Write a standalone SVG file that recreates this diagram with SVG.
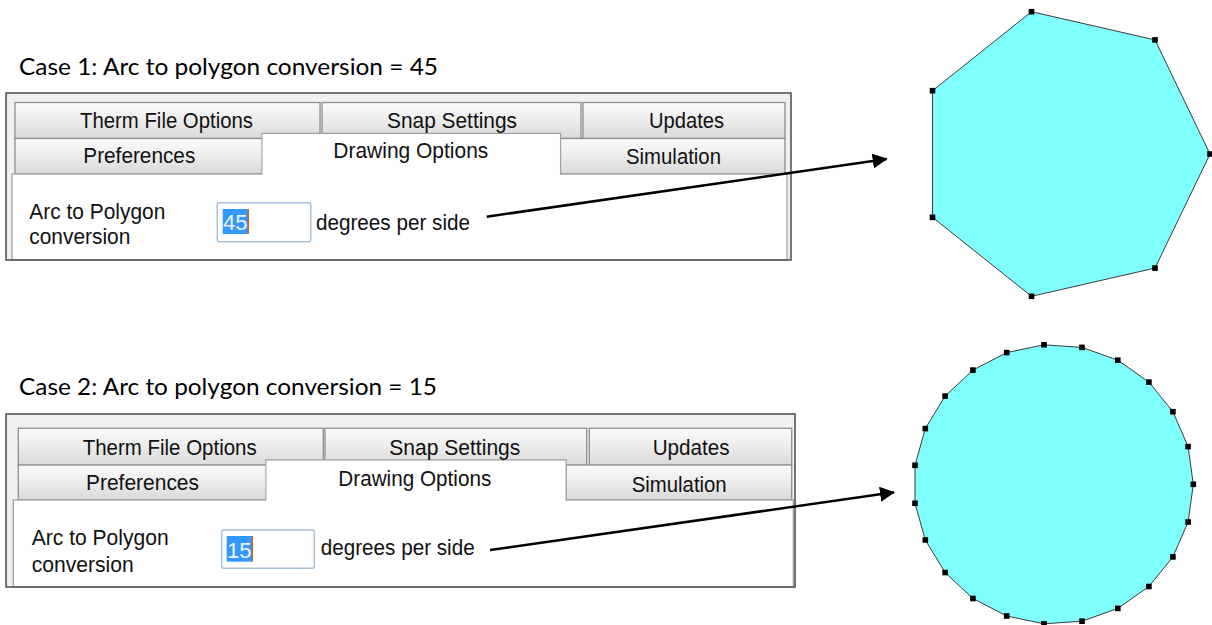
<svg xmlns="http://www.w3.org/2000/svg" width="1212" height="625" viewBox="0 0 1212 625">
  <defs>
    <linearGradient id="tabFill" x1="0" y1="0" x2="0" y2="1">
      <stop offset="0" stop-color="#fbfbfb"/>
      <stop offset="0.5" stop-color="#ececec"/>
      <stop offset="1" stop-color="#d9d9d9"/>
    </linearGradient>
    <marker id="arrowHead" markerUnits="userSpaceOnUse" markerWidth="15" markerHeight="15" viewBox="0 0 15 15" refX="14" refY="7.5" orient="auto">
      <path d="M0,0 L15,7.5 L0,15 Z" fill="#000"/>
    </marker>
    <rect id="vtx" x="-2.8" y="-2.8" width="5.6" height="5.6" fill="#000"/>
  </defs>
  <style>
    .title { font-family: Lato, "Noto Sans", "Liberation Sans", sans-serif; font-size: 22.5px; fill: #000; }
    .ui { font-family: "Liberation Sans", Arial, sans-serif; font-size: 22px; fill: #111; }
    .sel { font-family: "Liberation Sans", Arial, sans-serif; font-size: 22px; fill: #eef4ff; }
    .panel { fill: #f0f0f0; }
    .frame { fill: none; stroke: #4a4a4a; stroke-width: 1.5; }
    .tab { fill: url(#tabFill); stroke: #8e8e8e; stroke-width: 1.3; }
    .content { fill: #fff; stroke: #a2a2a2; stroke-width: 1.3; }
    .active { fill: #fff; stroke: #a2a2a2; stroke-width: 1.3; }
    .field { fill: #fff; stroke: #a9c1d9; stroke-width: 1.5; }
    .hilite { fill: #3399ff; }
    .caret { stroke: #c8641e; stroke-width: 1.5; }
    .shape { fill: #80ffff; stroke: #3a3a3a; stroke-width: 1; }
    .link { fill: none; stroke: #000; stroke-width: 2.5; marker-end: url(#arrowHead); }
  </style>

  <rect width="1212" height="625" fill="#fff"/>

  <!-- Case 1 -->
  <g id="case1-title">
    <text class="title" x="19" y="75" textLength="419" lengthAdjust="spacingAndGlyphs">Case 1: Arc to polygon conversion = 45</text>
  </g>

  <g id="case1-dialog">
    <rect class="panel" x="6" y="93" width="785" height="167"/>
    <!-- back row of tabs -->
    <rect class="tab" x="15" y="102.5" width="305" height="36"/>
    <rect class="tab" x="322" y="102.5" width="259" height="36"/>
    <rect class="tab" x="583" y="102.5" width="202" height="36"/>
    <!-- front row of tabs -->
    <rect class="tab" x="15" y="138.5" width="248" height="35.5"/>
    <rect class="tab" x="560" y="138.5" width="225" height="35.5"/>
    <!-- page -->
    <rect class="content" x="12" y="174" width="775" height="86"/>
    <path class="active" d="M262,174.7 V133.5 H560.5 V174.7"/>
    <rect x="262.7" y="134.2" width="297.1" height="41" fill="#fff"/>
    <text class="ui" x="80" y="128.3" textLength="173" lengthAdjust="spacingAndGlyphs">Therm File Options</text>
    <text class="ui" x="387" y="128.3" textLength="130" lengthAdjust="spacingAndGlyphs">Snap Settings</text>
    <text class="ui" x="649" y="128.3" textLength="75" lengthAdjust="spacingAndGlyphs">Updates</text>
    <text class="ui" x="83.3" y="162.7" textLength="112" lengthAdjust="spacingAndGlyphs">Preferences</text>
    <text class="ui" x="333.3" y="158.3" textLength="155" lengthAdjust="spacingAndGlyphs">Drawing Options</text>
    <text class="ui" x="626" y="164" textLength="95" lengthAdjust="spacingAndGlyphs">Simulation</text>
    <text class="ui" x="29.3" y="219" textLength="136" lengthAdjust="spacingAndGlyphs">Arc to Polygon</text>
    <text class="ui" x="29.3" y="244" textLength="101" lengthAdjust="spacingAndGlyphs">conversion</text>
    <rect class="field" x="217.3" y="202.7" width="93.4" height="39" rx="2"/>
    <rect class="hilite" x="222.7" y="209" width="25.6" height="25"/>
    <text class="sel" x="223" y="230" textLength="24.5" lengthAdjust="spacingAndGlyphs">45</text>
    <line class="caret" x1="248.3" y1="209" x2="248.3" y2="234"/>
    <text class="ui" x="316" y="230" textLength="154" lengthAdjust="spacingAndGlyphs">degrees per side</text>
    <rect class="frame" x="6" y="93" width="785" height="167"/>
  </g>

  <g id="case1-polygon">
    <polygon class="shape" points="1210,154 1155,39.9 1031.5,11.7 932.5,90.7 932.5,217.3 1031.5,296.3 1155,268.1"/>
    <use href="#vtx" x="1210" y="154"/>
    <use href="#vtx" x="1155" y="39.9"/>
    <use href="#vtx" x="1031.5" y="11.7"/>
    <use href="#vtx" x="932.5" y="90.7"/>
    <use href="#vtx" x="932.5" y="217.3"/>
    <use href="#vtx" x="1031.5" y="296.3"/>
    <use href="#vtx" x="1155" y="268.1"/>
  </g>

  <!-- Case 2 -->
  <g id="case2-title">
    <text class="title" x="19" y="395" textLength="418" lengthAdjust="spacingAndGlyphs">Case 2: Arc to polygon conversion = 15</text>
  </g>

  <g id="case2-dialog">
    <rect class="panel" x="6" y="414" width="789" height="173"/>
    <!-- back row of tabs -->
    <rect class="tab" x="18.3" y="428.3" width="305" height="37"/>
    <rect class="tab" x="325" y="428.3" width="261.7" height="37"/>
    <rect class="tab" x="589.3" y="428.3" width="202.4" height="37"/>
    <!-- front row of tabs -->
    <rect class="tab" x="18.3" y="465" width="248.4" height="35"/>
    <rect class="tab" x="566" y="465" width="225.7" height="35"/>
    <!-- page -->
    <rect class="content" x="13.3" y="500" width="780" height="87"/>
    <path class="active" d="M266,500.7 V460 H566 V500.7"/>
    <rect x="266.7" y="460.7" width="298.6" height="41" fill="#fff"/>
    <text class="ui" x="82.7" y="455" textLength="174" lengthAdjust="spacingAndGlyphs">Therm File Options</text>
    <text class="ui" x="389.3" y="455" textLength="131" lengthAdjust="spacingAndGlyphs">Snap Settings</text>
    <text class="ui" x="652.7" y="454.5" textLength="77" lengthAdjust="spacingAndGlyphs">Updates</text>
    <text class="ui" x="86" y="490" textLength="113" lengthAdjust="spacingAndGlyphs">Preferences</text>
    <text class="ui" x="338.3" y="486" textLength="153" lengthAdjust="spacingAndGlyphs">Drawing Options</text>
    <text class="ui" x="631.7" y="491.7" textLength="95" lengthAdjust="spacingAndGlyphs">Simulation</text>
    <text class="ui" x="31.7" y="545" textLength="137" lengthAdjust="spacingAndGlyphs">Arc to Polygon</text>
    <text class="ui" x="31.7" y="571.7" textLength="102" lengthAdjust="spacingAndGlyphs">conversion</text>
    <rect class="field" x="221.7" y="530" width="92.6" height="38.3" rx="2"/>
    <rect class="hilite" x="226.7" y="536" width="25.6" height="25.7"/>
    <text class="sel" x="227" y="557.5" textLength="24.5" lengthAdjust="spacingAndGlyphs">15</text>
    <line class="caret" x1="252.3" y1="536" x2="252.3" y2="561.7"/>
    <text class="ui" x="320.7" y="555" textLength="154" lengthAdjust="spacingAndGlyphs">degrees per side</text>
    <rect class="frame" x="6" y="414" width="789" height="173"/>
  </g>

  <g id="case2-polygon">
    <polygon class="shape" points="1193.3,484.3 1188.1,446.6 1172.9,411.7 1148.9,382.1 1117.8,360.2 1082,347.4 1044,344.8 1006.7,352.6 972.9,370.1 945.1,396.1 925.3,428.6 915,465.3 915,503.3 925.3,540 945.1,572.5 972.9,598.5 1006.7,616 1044,623.8 1082,621.2 1117.8,608.4 1148.9,586.5 1172.9,556.9 1188.1,522"/>
    <use href="#vtx" x="1193.3" y="484.3"/>
    <use href="#vtx" x="1188.1" y="446.6"/>
    <use href="#vtx" x="1172.9" y="411.7"/>
    <use href="#vtx" x="1148.9" y="382.1"/>
    <use href="#vtx" x="1117.8" y="360.2"/>
    <use href="#vtx" x="1082" y="347.4"/>
    <use href="#vtx" x="1044" y="344.8"/>
    <use href="#vtx" x="1006.7" y="352.6"/>
    <use href="#vtx" x="972.9" y="370.1"/>
    <use href="#vtx" x="945.1" y="396.1"/>
    <use href="#vtx" x="925.3" y="428.6"/>
    <use href="#vtx" x="915" y="465.3"/>
    <use href="#vtx" x="915" y="503.3"/>
    <use href="#vtx" x="925.3" y="540"/>
    <use href="#vtx" x="945.1" y="572.5"/>
    <use href="#vtx" x="972.9" y="598.5"/>
    <use href="#vtx" x="1006.7" y="616"/>
    <use href="#vtx" x="1044" y="623.8"/>
    <use href="#vtx" x="1082" y="621.2"/>
    <use href="#vtx" x="1117.8" y="608.4"/>
    <use href="#vtx" x="1148.9" y="586.5"/>
    <use href="#vtx" x="1172.9" y="556.9"/>
    <use href="#vtx" x="1188.1" y="522"/>
  </g>

  <!-- connectors from the setting to the resulting shape -->
  <g id="connectors">
    <line class="link" x1="486.7" y1="216.7" x2="886.7" y2="159"/>
    <line class="link" x1="490" y1="550" x2="894" y2="492.3"/>
  </g>
</svg>
